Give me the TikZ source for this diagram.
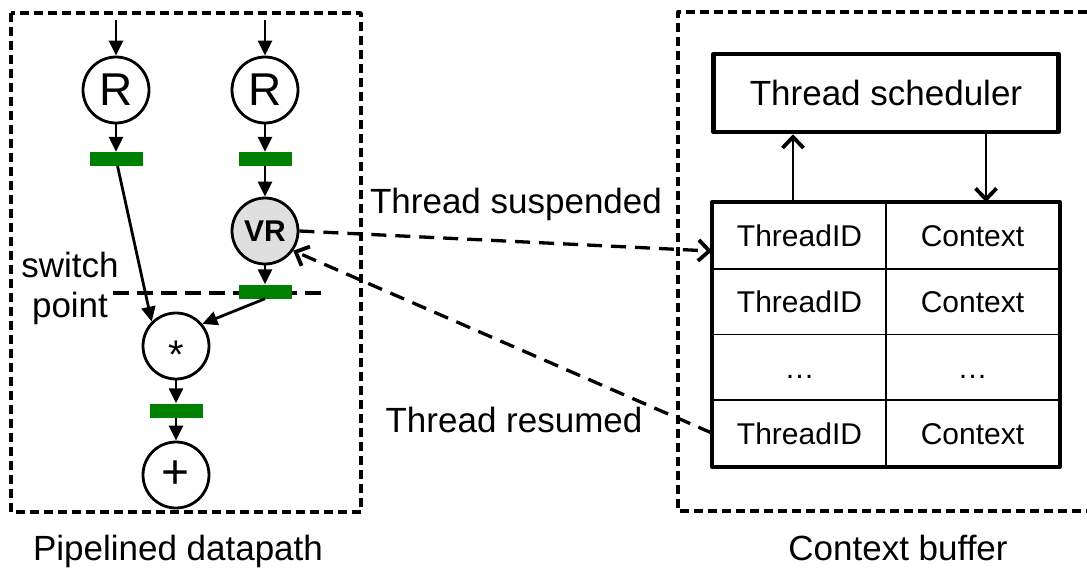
\documentclass[tikz,border=0pt]{standalone}
\usepackage{fontspec}
\setmainfont{Liberation Sans}
\usetikzlibrary{arrows.meta,calc}

\begin{document}
\begin{tikzpicture}[x=1pt,y=-1pt,line join=round,
  every node/.style={font=\fontsize{35}{42}\selectfont},
  op/.style={draw,circle,line width=2.8pt,minimum size=66pt,inner sep=0pt},
  reg/.style={fill=green!50!black,minimum width=53pt,minimum height=14pt,inner sep=0pt},
  cell/.style={draw,line width=1.8pt,minimum width=173pt,minimum height=65.75pt,inner sep=0pt,
    text height=22pt,text depth=0pt,font=\fontsize{30}{36}\selectfont},
  flow/.style={line width=2.8pt,-{Triangle[length=15pt,width=14pt]}},
  ctl/.style={line width=2.2pt,-{Straight Barb[length=11pt,width=21pt,line width=3.8pt]}},
  frame/.style={line width=3.4pt,dash pattern=on 9pt off 5pt},
  thread/.style={line width=3.3pt,dash pattern=on 15pt off 9pt,
    -{Straight Barb[length=11pt,width=21pt,line width=3.8pt]}}]
\useasboundingbox (0,0) rectangle (1087,570);
% the two dashed frames
  \draw[frame] (11,13) rectangle (361,512);
  \draw[frame] (1087,12) -- (678,12) -- (678,511) -- (1087,511);
% switch point line, under the register
  \coordinate (sw1) at (113,293);
  \coordinate (sw2) at (323,293);
  \draw[line width=4.2pt,dash pattern=on 16pt off 8pt] (sw1) -- (sw2);
% pipelined datapath
  \coordinate (in1) at (116,20);
  \coordinate (in2) at (265,20);
  \node[op] (r1) at (116,90) {\fontsize{46}{50}\selectfont R};
  \node[op] (r2) at (265,90) {\fontsize{46}{50}\selectfont R};
  \node[reg] (b1) at (116,159) {};
  \node[reg] (b2) at (265,159) {};
  \node[op,fill=gray!25] (vr) at (265,231) {\fontsize{30}{36}\selectfont\bfseries VR};
  \node[reg] (b3) at (265,291.5) {};
  \node[op] (mul) at (176,346) {\fontsize{40}{44}\selectfont\raisebox{-9pt}[\height][0pt]{*}};
  \node[reg] (b4) at (176,410.5) {};
  \node[op] (add) at (176,475) {\fontsize{48}{52}\selectfont +};
  \draw[flow] (in1) -- (r1);
  \draw[flow] (in2) -- (r2);
  \draw[flow] (r1) -- (b1);
  \draw[flow] (r2) -- (b2);
  \draw[flow] (b2) -- (vr);
  \draw[flow] (vr) -- (b3);
  \draw[flow] (b1) -- (mul.135);
  \draw[flow] (b3.south) -- (mul.40);
  \draw[flow] (mul) -- (b4);
  \draw[flow] (b4) -- (add);
  \node[anchor=base] (swt) at (70,277) {switch};
  \node[anchor=base] (pnt) at (70,317) {point};
  \node[anchor=base] (pd) at (178,560) {Pipelined datapath};
% context buffer
  \node[draw,line width=4.5pt,minimum width=345pt,minimum height=78pt,inner sep=0pt]
    (sched) at (886,93) {Thread scheduler};
  \foreach \r/\a/\b in {1/ThreadID/Context,2/ThreadID/Context,3/…/…,4/ThreadID/Context} {
    \node[cell] (c\r1) at (799.5,{203+65.75*(\r-0.5)}) {\a};
    \node[cell] (c\r2) at (972.5,{203+65.75*(\r-0.5)}) {\b};
  }
  \draw[line width=4.5pt] (c11.north west) rectangle (c42.south east);
  \draw[ctl] ($(c11.north)+(-6.5,0)$) -- ($(sched.south)+(-93,0)$);
  \draw[ctl] ($(sched.south)+(100,0)$) -- ($(c12.north)+(13.5,0)$);
  \node[anchor=base] (cb) at (898,560) {Context buffer};
% suspend and resume
  \draw[thread] (vr.east) -- ($(c11.west)!0.45!(c11.south west)$);
  \draw[thread] (c41.west) -- (vr.-35);
  \node[anchor=base] (susp) at (516,213) {Thread suspended};
  \node[anchor=base] (resm) at (514,432) {Thread resumed};
\end{tikzpicture}
\end{document}
